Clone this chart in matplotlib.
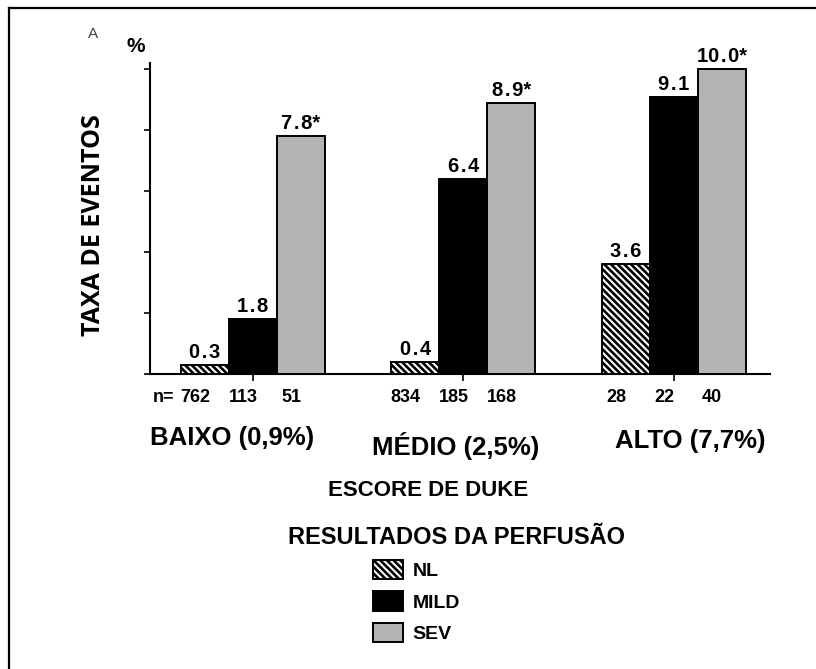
import matplotlib
matplotlib.use("Agg")
import matplotlib.pyplot as plt
from matplotlib.lines import Line2D
import numpy as np

# data
groups = ["BAIXO (0,9%)", "MÉDIO (2,5%)", "ALTO (7,7%)"]
series = ["NL", "MILD", "SEV"]
nl_rate = [0.3, 0.4, 3.6]
mild_rate = [1.8, 6.4, 9.1]
sev_rate = [7.8, 8.9, 10.0]
nl_n = [762, 834, 28]
mild_n = [113, 185, 22]
sev_n = [51, 168, 40]
sev_significant = [True, True, True]

W, H = 816, 669
plt.rcParams["font.family"] = ["Liberation Sans", "DejaVu Sans"]
plt.rcParams["hatch.linewidth"] = 1.9

fig = plt.figure(figsize=(W / 100, H / 100), dpi=100)
ax = fig.add_axes([150 / W, 1 - 374 / H, 620 / W, 311 / H])

x = np.arange(len(groups))
width = 0.228
bar_style = dict(width=width, edgecolor="black", linewidth=1.4, zorder=3)

b_nl = ax.bar(x - width, nl_rate, color="white", hatch="\\" * 5, **bar_style)
b_mild = ax.bar(x, mild_rate, color="black", **bar_style)
b_sev = ax.bar(x + width, sev_rate, color="#b4b4b4", **bar_style)


def fmt(v, star=False):
    s = f"{v:.1f}".replace(".", "\u200a.\u200a")
    return s + ("*" if star else "")


value_font = dict(fontsize=14.5, fontweight="bold", ha="center", va="bottom")
for bars, vals, stars in [(b_nl, nl_rate, [False] * 3),
                          (b_mild, mild_rate, [False] * 3),
                          (b_sev, sev_rate, sev_significant)]:
    for rect, v, st in zip(bars, vals, stars):
        ax.annotate(fmt(v, st), (rect.get_x() + rect.get_width() / 2, v),
                    xytext=(0, 2), textcoords="offset points", **value_font)

# sample sizes under the baseline
n_font = dict(fontsize=13, fontweight="bold", ha="center", va="center",
              annotation_clip=False)
for bars, ns in [(b_nl, nl_n), (b_mild, mild_n), (b_sev, sev_n)]:
    for rect, n in zip(bars, ns):
        ax.annotate(str(n), (rect.get_x() + rect.get_width() / 2, 0),
                    xytext=(-7, -17), textcoords="offset points", **n_font)
ax.annotate("n=", (b_nl[0].get_x() + width / 2, 0), xytext=(-22, -17),
            textcoords="offset points", fontsize=13, fontweight="bold",
            ha="right", va="center", annotation_clip=False)

# group labels (free floating in the original)
cat_dx = [-15, -6, 12]
cat_dy = [-46, -52, -48]
for xi, g, dx, dy in zip(x, groups, cat_dx, cat_dy):
    ax.annotate(g, (xi, 0), xytext=(dx, dy), textcoords="offset points",
                fontsize=18.5, fontweight="bold", ha="center", va="center",
                annotation_clip=False)

ax.set_xlim(-0.489, 2.456)
ax.set_ylim(0, 10.2)
ax.set_yticks([0, 2, 4, 6, 8, 10])
ax.set_xticks(x)
ax.tick_params(axis="y", direction="out", length=4, width=1.2, labelleft=False)
ax.tick_params(axis="x", direction="out", length=5, width=1.2, labelbottom=False)
for side in ["top", "right"]:
    ax.spines[side].set_visible(False)
ax.spines["left"].set_linewidth(1.5)
ax.spines["bottom"].set_linewidth(1.5)

fig.text(93 / W, 1 - 225 / H, "TAXA DE EVENTOS", rotation=90, fontsize=18,
         fontweight="bold", family=["Open Sans", "DejaVu Sans"],
         ha="center", va="center")
fig.text(136 / W, 1 - 47 / H, "%", fontsize=15, fontweight="bold",
         ha="center", va="center")
fig.text(93 / W, 1 - 34 / H, "A", fontsize=11, color="#444444",
         ha="center", va="center")

fig.text(428 / W, 1 - 491 / H, "ESCORE DE DUKE", fontsize=16,
         fontweight="bold", ha="center", va="center")
fig.text(457 / W, 1 - 538 / H, "RESULTADOS DA PERFUSÃO", fontsize=17,
         fontweight="bold", ha="center", va="center")

ax.legend(handles=[b_nl, b_mild, b_sev], labels=series, loc="upper left",
          bbox_to_anchor=(373 / W, 1 - 560 / H), bbox_transform=fig.transFigure,
          frameon=False, prop=dict(size=14, weight="bold"),
          handlelength=1.55, handleheight=1.15, labelspacing=0.57,
          handletextpad=0.5, borderpad=0, borderaxespad=0)

# frame lines (top and left only visible in the original crop)
fig.add_artist(Line2D([9 / W, 9 / W], [0, 1 - 8 / H], transform=fig.transFigure,
                      color="black", lw=1.6))
fig.add_artist(Line2D([9 / W, 1], [1 - 8 / H, 1 - 8 / H], transform=fig.transFigure,
                      color="black", lw=1.6))

fig.savefig("out.png", dpi=100)
